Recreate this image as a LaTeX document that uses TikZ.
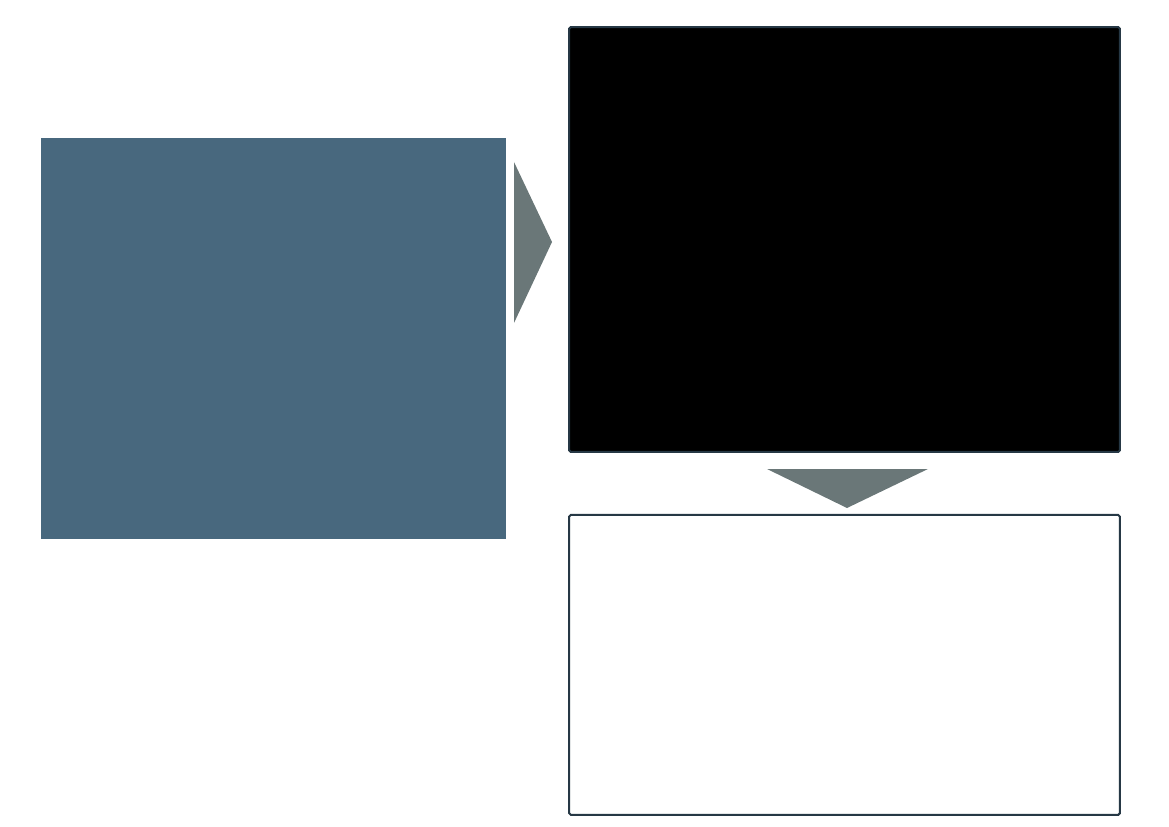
\documentclass[tikz,border=0pt]{standalone}
\usepackage{tikz}
\usetikzlibrary{positioning}
\definecolor{slateblue}{HTML}{48687E}
\definecolor{arrowgray}{HTML}{6A7778}
\definecolor{edgedark}{HTML}{263845}
\tikzstyle{inputblock} = [rectangle, minimum width=9.3cm, minimum height=8.02cm, inner sep=0pt, fill=slateblue]
\tikzstyle{darkblock} = [rectangle, rounded corners=1pt, minimum width=11.02cm, minimum height=8.5cm, inner sep=0pt, line width=0.04cm, draw=edgedark, fill=black]
\tikzstyle{outblock} = [rectangle, rounded corners=1pt, minimum width=11.02cm, minimum height=6cm, inner sep=0pt, line width=0.04cm, draw=edgedark, fill=white]
\tikzstyle{pointer} = [fill=arrowgray]

\begin{document}
\begin{tikzpicture}[x=0.02cm, y=-0.02cm]
	\useasboundingbox (0,0) rectangle (1169,827);
	
	\node (source) [inputblock] at (273.5,338.5) {};
	
	\node (model) [darkblock] at (844.5,239.5) {};
	
	\node (result) [outblock, below=1.22cm of model] {};
	
	% pointers between the blocks
	\fill [pointer] (514,162) -- (552,242) -- (514,323) -- cycle;
	\fill [pointer] (767,469) -- (928,469) -- (847,508) -- cycle;
\end{tikzpicture}
\end{document}
